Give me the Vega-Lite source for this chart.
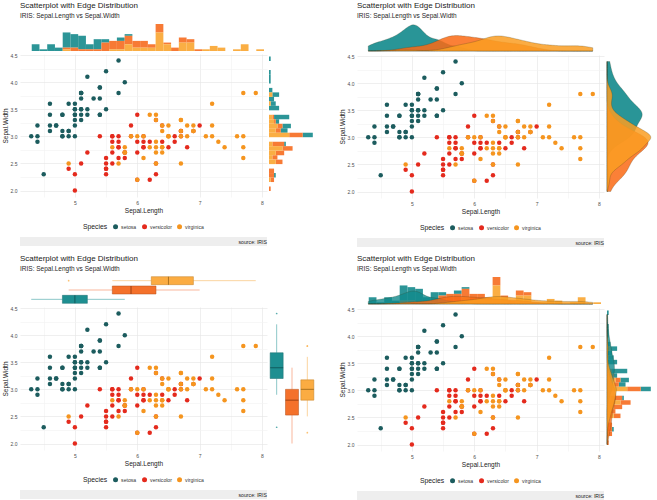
{
 "$schema": "https://vega.github.io/schema/vega-lite/v6.json",
 "padding": {"left": 2, "top": 2, "right": 0, "bottom": 0},
 "background": "white",
 "config": {
  "font": "Liberation Sans",
  "view": {"stroke": null},
  "axis": {"domain": false, "ticks": false, "tickSize": 0, "labelFont": "Liberation Sans", "labelFontSize": 5, "labelColor": "#4d4d4d", "labelPadding": 3, "titleFont": "Liberation Sans", "titleFontSize": 6.5, "titleFontWeight": "normal", "titleColor": "#222222", "titlePadding": 2, "gridWidth": 0.6},
  "legend": {"orient": "bottom", "direction": "horizontal", "titleOrient": "left", "titleFontSize": 6.8, "titleFontWeight": "normal", "titleColor": "#222222", "labelFontSize": 5.1, "labelColor": "#333333", "symbolType": "circle", "symbolSize": 25, "symbolStrokeWidth": 0, "columnPadding": 5, "labelOffset": 3, "offset": 10, "titlePadding": 5, "layout": {"bottom": {"anchor": "middle"}}},
  "title": {"font": "Liberation Sans", "fontSize": 8, "fontWeight": "normal", "color": "#1a1a1a", "anchor": "start", "frame": "group", "subtitleFont": "Liberation Sans", "subtitleFontSize": 6.5, "subtitleColor": "#262626", "subtitlePadding": 3, "offset": 3.5}
 },
 "datasets": {"iris": [
  {"SepalLength":5.1,"SepalWidth":3.5,"Species":"setosa"},{"SepalLength":4.9,"SepalWidth":3.0,"Species":"setosa"},{"SepalLength":4.7,"SepalWidth":3.2,"Species":"setosa"},{"SepalLength":4.6,"SepalWidth":3.1,"Species":"setosa"},{"SepalLength":5.0,"SepalWidth":3.6,"Species":"setosa"},
  {"SepalLength":5.4,"SepalWidth":3.9,"Species":"setosa"},{"SepalLength":4.6,"SepalWidth":3.4,"Species":"setosa"},{"SepalLength":5.0,"SepalWidth":3.4,"Species":"setosa"},{"SepalLength":4.4,"SepalWidth":2.9,"Species":"setosa"},{"SepalLength":4.9,"SepalWidth":3.1,"Species":"setosa"},
  {"SepalLength":5.4,"SepalWidth":3.7,"Species":"setosa"},{"SepalLength":4.8,"SepalWidth":3.4,"Species":"setosa"},{"SepalLength":4.8,"SepalWidth":3.0,"Species":"setosa"},{"SepalLength":4.3,"SepalWidth":3.0,"Species":"setosa"},{"SepalLength":5.8,"SepalWidth":4.0,"Species":"setosa"},
  {"SepalLength":5.7,"SepalWidth":4.4,"Species":"setosa"},{"SepalLength":5.4,"SepalWidth":3.9,"Species":"setosa"},{"SepalLength":5.1,"SepalWidth":3.5,"Species":"setosa"},{"SepalLength":5.7,"SepalWidth":3.8,"Species":"setosa"},{"SepalLength":5.1,"SepalWidth":3.8,"Species":"setosa"},
  {"SepalLength":5.4,"SepalWidth":3.4,"Species":"setosa"},{"SepalLength":5.1,"SepalWidth":3.7,"Species":"setosa"},{"SepalLength":4.6,"SepalWidth":3.6,"Species":"setosa"},{"SepalLength":5.1,"SepalWidth":3.3,"Species":"setosa"},{"SepalLength":4.8,"SepalWidth":3.4,"Species":"setosa"},
  {"SepalLength":5.0,"SepalWidth":3.0,"Species":"setosa"},{"SepalLength":5.0,"SepalWidth":3.4,"Species":"setosa"},{"SepalLength":5.2,"SepalWidth":3.5,"Species":"setosa"},{"SepalLength":5.2,"SepalWidth":3.4,"Species":"setosa"},{"SepalLength":4.7,"SepalWidth":3.2,"Species":"setosa"},
  {"SepalLength":4.8,"SepalWidth":3.1,"Species":"setosa"},{"SepalLength":5.4,"SepalWidth":3.4,"Species":"setosa"},{"SepalLength":5.2,"SepalWidth":4.1,"Species":"setosa"},{"SepalLength":5.5,"SepalWidth":4.2,"Species":"setosa"},{"SepalLength":4.9,"SepalWidth":3.1,"Species":"setosa"},
  {"SepalLength":5.0,"SepalWidth":3.2,"Species":"setosa"},{"SepalLength":5.5,"SepalWidth":3.5,"Species":"setosa"},{"SepalLength":4.9,"SepalWidth":3.6,"Species":"setosa"},{"SepalLength":4.4,"SepalWidth":3.0,"Species":"setosa"},{"SepalLength":5.1,"SepalWidth":3.4,"Species":"setosa"},
  {"SepalLength":5.0,"SepalWidth":3.5,"Species":"setosa"},{"SepalLength":4.5,"SepalWidth":2.3,"Species":"setosa"},{"SepalLength":4.4,"SepalWidth":3.2,"Species":"setosa"},{"SepalLength":5.0,"SepalWidth":3.5,"Species":"setosa"},{"SepalLength":5.1,"SepalWidth":3.8,"Species":"setosa"},
  {"SepalLength":4.8,"SepalWidth":3.0,"Species":"setosa"},{"SepalLength":5.1,"SepalWidth":3.8,"Species":"setosa"},{"SepalLength":4.6,"SepalWidth":3.2,"Species":"setosa"},{"SepalLength":5.3,"SepalWidth":3.7,"Species":"setosa"},{"SepalLength":5.0,"SepalWidth":3.3,"Species":"setosa"},
  {"SepalLength":7.0,"SepalWidth":3.2,"Species":"versicolor"},{"SepalLength":6.4,"SepalWidth":3.2,"Species":"versicolor"},{"SepalLength":6.9,"SepalWidth":3.1,"Species":"versicolor"},{"SepalLength":5.5,"SepalWidth":2.3,"Species":"versicolor"},{"SepalLength":6.5,"SepalWidth":2.8,"Species":"versicolor"},
  {"SepalLength":5.7,"SepalWidth":2.8,"Species":"versicolor"},{"SepalLength":6.3,"SepalWidth":3.3,"Species":"versicolor"},{"SepalLength":4.9,"SepalWidth":2.4,"Species":"versicolor"},{"SepalLength":6.6,"SepalWidth":2.9,"Species":"versicolor"},{"SepalLength":5.2,"SepalWidth":2.7,"Species":"versicolor"},
  {"SepalLength":5.0,"SepalWidth":2.0,"Species":"versicolor"},{"SepalLength":5.9,"SepalWidth":3.0,"Species":"versicolor"},{"SepalLength":6.0,"SepalWidth":2.2,"Species":"versicolor"},{"SepalLength":6.1,"SepalWidth":2.9,"Species":"versicolor"},{"SepalLength":5.6,"SepalWidth":2.9,"Species":"versicolor"},
  {"SepalLength":6.7,"SepalWidth":3.1,"Species":"versicolor"},{"SepalLength":5.6,"SepalWidth":3.0,"Species":"versicolor"},{"SepalLength":5.8,"SepalWidth":2.7,"Species":"versicolor"},{"SepalLength":6.2,"SepalWidth":2.2,"Species":"versicolor"},{"SepalLength":5.6,"SepalWidth":2.5,"Species":"versicolor"},
  {"SepalLength":5.9,"SepalWidth":3.2,"Species":"versicolor"},{"SepalLength":6.1,"SepalWidth":2.8,"Species":"versicolor"},{"SepalLength":6.3,"SepalWidth":2.5,"Species":"versicolor"},{"SepalLength":6.1,"SepalWidth":2.8,"Species":"versicolor"},{"SepalLength":6.4,"SepalWidth":2.9,"Species":"versicolor"},
  {"SepalLength":6.6,"SepalWidth":3.0,"Species":"versicolor"},{"SepalLength":6.8,"SepalWidth":2.8,"Species":"versicolor"},{"SepalLength":6.7,"SepalWidth":3.0,"Species":"versicolor"},{"SepalLength":6.0,"SepalWidth":2.9,"Species":"versicolor"},{"SepalLength":5.7,"SepalWidth":2.6,"Species":"versicolor"},
  {"SepalLength":5.5,"SepalWidth":2.4,"Species":"versicolor"},{"SepalLength":5.5,"SepalWidth":2.4,"Species":"versicolor"},{"SepalLength":5.8,"SepalWidth":2.7,"Species":"versicolor"},{"SepalLength":6.0,"SepalWidth":2.7,"Species":"versicolor"},{"SepalLength":5.4,"SepalWidth":3.0,"Species":"versicolor"},
  {"SepalLength":6.0,"SepalWidth":3.4,"Species":"versicolor"},{"SepalLength":6.7,"SepalWidth":3.1,"Species":"versicolor"},{"SepalLength":6.3,"SepalWidth":2.3,"Species":"versicolor"},{"SepalLength":5.6,"SepalWidth":3.0,"Species":"versicolor"},{"SepalLength":5.5,"SepalWidth":2.5,"Species":"versicolor"},
  {"SepalLength":5.5,"SepalWidth":2.6,"Species":"versicolor"},{"SepalLength":6.1,"SepalWidth":3.0,"Species":"versicolor"},{"SepalLength":5.8,"SepalWidth":2.6,"Species":"versicolor"},{"SepalLength":5.0,"SepalWidth":2.3,"Species":"versicolor"},{"SepalLength":5.6,"SepalWidth":2.7,"Species":"versicolor"},
  {"SepalLength":5.7,"SepalWidth":3.0,"Species":"versicolor"},{"SepalLength":5.7,"SepalWidth":2.9,"Species":"versicolor"},{"SepalLength":6.2,"SepalWidth":2.9,"Species":"versicolor"},{"SepalLength":5.1,"SepalWidth":2.5,"Species":"versicolor"},{"SepalLength":5.7,"SepalWidth":2.8,"Species":"versicolor"},
  {"SepalLength":6.3,"SepalWidth":3.3,"Species":"virginica"},{"SepalLength":5.8,"SepalWidth":2.7,"Species":"virginica"},{"SepalLength":7.1,"SepalWidth":3.0,"Species":"virginica"},{"SepalLength":6.3,"SepalWidth":2.9,"Species":"virginica"},{"SepalLength":6.5,"SepalWidth":3.0,"Species":"virginica"},
  {"SepalLength":7.6,"SepalWidth":3.0,"Species":"virginica"},{"SepalLength":4.9,"SepalWidth":2.5,"Species":"virginica"},{"SepalLength":7.3,"SepalWidth":2.9,"Species":"virginica"},{"SepalLength":6.7,"SepalWidth":2.5,"Species":"virginica"},{"SepalLength":7.2,"SepalWidth":3.6,"Species":"virginica"},
  {"SepalLength":6.5,"SepalWidth":3.2,"Species":"virginica"},{"SepalLength":6.4,"SepalWidth":2.7,"Species":"virginica"},{"SepalLength":6.8,"SepalWidth":3.0,"Species":"virginica"},{"SepalLength":5.7,"SepalWidth":2.5,"Species":"virginica"},{"SepalLength":5.8,"SepalWidth":2.8,"Species":"virginica"},
  {"SepalLength":6.4,"SepalWidth":3.2,"Species":"virginica"},{"SepalLength":6.5,"SepalWidth":3.0,"Species":"virginica"},{"SepalLength":7.7,"SepalWidth":3.8,"Species":"virginica"},{"SepalLength":7.7,"SepalWidth":2.6,"Species":"virginica"},{"SepalLength":6.0,"SepalWidth":2.2,"Species":"virginica"},
  {"SepalLength":6.9,"SepalWidth":3.2,"Species":"virginica"},{"SepalLength":5.6,"SepalWidth":2.8,"Species":"virginica"},{"SepalLength":7.7,"SepalWidth":2.8,"Species":"virginica"},{"SepalLength":6.3,"SepalWidth":2.7,"Species":"virginica"},{"SepalLength":6.7,"SepalWidth":3.3,"Species":"virginica"},
  {"SepalLength":7.2,"SepalWidth":3.2,"Species":"virginica"},{"SepalLength":6.2,"SepalWidth":2.8,"Species":"virginica"},{"SepalLength":6.1,"SepalWidth":3.0,"Species":"virginica"},{"SepalLength":6.4,"SepalWidth":2.8,"Species":"virginica"},{"SepalLength":7.2,"SepalWidth":3.0,"Species":"virginica"},
  {"SepalLength":7.4,"SepalWidth":2.8,"Species":"virginica"},{"SepalLength":7.9,"SepalWidth":3.8,"Species":"virginica"},{"SepalLength":6.4,"SepalWidth":2.8,"Species":"virginica"},{"SepalLength":6.3,"SepalWidth":2.8,"Species":"virginica"},{"SepalLength":6.1,"SepalWidth":2.6,"Species":"virginica"},
  {"SepalLength":7.7,"SepalWidth":3.0,"Species":"virginica"},{"SepalLength":6.3,"SepalWidth":3.4,"Species":"virginica"},{"SepalLength":6.4,"SepalWidth":3.1,"Species":"virginica"},{"SepalLength":6.0,"SepalWidth":3.0,"Species":"virginica"},{"SepalLength":6.9,"SepalWidth":3.1,"Species":"virginica"},
  {"SepalLength":6.7,"SepalWidth":3.1,"Species":"virginica"},{"SepalLength":6.9,"SepalWidth":3.1,"Species":"virginica"},{"SepalLength":5.8,"SepalWidth":2.7,"Species":"virginica"},{"SepalLength":6.8,"SepalWidth":3.2,"Species":"virginica"},{"SepalLength":6.7,"SepalWidth":3.3,"Species":"virginica"},
  {"SepalLength":6.7,"SepalWidth":3.0,"Species":"virginica"},{"SepalLength":6.3,"SepalWidth":2.5,"Species":"virginica"},{"SepalLength":6.5,"SepalWidth":3.0,"Species":"virginica"},{"SepalLength":6.2,"SepalWidth":3.4,"Species":"virginica"},{"SepalLength":5.9,"SepalWidth":3.0,"Species":"virginica"}
 ],
 "caption": [{"caption": "source: IRIS"}]},
 "spacing": 8,
 "resolve": {"scale": {"color": "independent"}, "legend": {"color": "independent"}},
 "vconcat": [
  {"spacing": 24, "resolve": {"scale": {"color": "independent"}, "legend": {"color": "independent"}}, "hconcat": [
   {"spacing": 2, "resolve": {"scale": {"color": "independent"}, "legend": {"color": "independent"}}, "vconcat": [
    {"width": 247, "height": 28, "data": {"name": "iris"},
     "title": {"text": "Scatterplot with Edge Distribution", "subtitle": "IRIS: Sepal.Length vs Sepal.Width"},
     "mark": {"type": "bar", "binSpacing": 0, "opacity": 0.9},
     "encoding": {
      "x": {"field": "SepalLength", "type": "quantitative", "bin": {"extent": [4.3, 7.9], "step": 0.1241379, "nice": false}, "scale": {"domain": [4.12, 8.08], "nice": false, "zero": false}, "axis": null},
      "y": {"aggregate": "count", "type": "quantitative", "scale": {"domain": [0, 16.6]}, "axis": null},
      "color": {"field": "Species", "type": "nominal", "scale": {"domain": ["setosa","versicolor","virginica"], "range": ["#158A8C","#F66B1F","#FAA530"]}, "legend": null},
      "order": {"field": "Species", "sort": "descending"}
     }},
    {"spacing": 6, "resolve": {"scale": {"color": "independent"}, "legend": {"color": "independent"}}, "vconcat": [
     {"spacing": 2, "resolve": {"scale": {"color": "independent"}, "legend": {"color": "independent"}}, "hconcat": [
      {"width": 247, "height": 143, "data": {"name": "iris"},
       "mark": {"type": "circle", "size": 20, "opacity": 1},
       "encoding": {
        "x": {"field": "SepalLength", "type": "quantitative", "title": "Sepal.Length", "scale": {"domain": [4.12, 8.08], "nice": false, "zero": false},
              "axis": {"values": [4.5,5,5.5,6,6.5,7,7.5,8], "format": ".0f", "labelExpr": "datum.value % 1 === 0 ? datum.label : ''", "gridColor": {"condition": {"test": "datum.value % 1 === 0", "value": "#e4e4e4"}, "value": "#f1f1f1"}}},
        "y": {"field": "SepalWidth", "type": "quantitative", "title": "Sepal.Width", "scale": {"domain": [1.88, 4.52], "nice": false, "zero": false},
              "axis": {"values": [2,2.25,2.5,2.75,3,3.25,3.5,3.75,4,4.25,4.5], "format": ".1f", "labelExpr": "datum.value % 0.5 === 0 ? datum.label : ''", "gridColor": {"condition": {"test": "datum.value % 0.5 === 0", "value": "#e4e4e4"}, "value": "#f1f1f1"}}},
        "color": {"field": "Species", "type": "nominal", "scale": {"domain": ["setosa","versicolor","virginica"], "range": ["#1C5C5E","#E42A1D","#F5951F"]}, "legend": {"title": "Species"}}
       }},
      {"width": 46, "height": 143, "data": {"name": "iris"},
       "mark": {"type": "bar", "binSpacing": 0, "opacity": 0.9, "orient": "horizontal"},
       "encoding": {
        "y": {"field": "SepalWidth", "type": "quantitative", "bin": {"extent": [2.0, 4.4], "step": 0.0827586, "nice": false}, "scale": {"domain": [1.88, 4.52], "nice": false, "zero": false}, "axis": null},
        "x": {"aggregate": "count", "type": "quantitative", "scale": {"domain": [0, 27.3]}, "axis": null},
        "color": {"field": "Species", "type": "nominal", "scale": {"domain": ["setosa","versicolor","virginica"], "range": ["#158A8C","#F66B1F","#FAA530"]}, "legend": null},
        "order": {"field": "Species", "sort": "descending"}
       }}
     ]},
     {"width": 247, "height": 9, "data": {"name": "caption"}, "view": {"fill": "#eeeeee", "stroke": null},
      "mark": {"type": "text", "align": "right", "baseline": "middle", "fontSize": 5.2, "color": "#222222"},
      "encoding": {"text": {"field": "caption"}, "x": {"value": "width"}}}
    ]}
   ]},
   {"spacing": 2, "resolve": {"scale": {"color": "independent"}, "legend": {"color": "independent"}}, "vconcat": [
    {"width": 247, "height": 28, "data": {"name": "iris"},
     "title": {"text": "Scatterplot with Edge Distribution", "subtitle": "IRIS: Sepal.Length vs Sepal.Width"},
     "layer": [
      {"transform": [{"filter": "datum.Species === 'setosa'"}, {"density": "SepalLength", "bandwidth": 0.1229, "extent": [4.3, 7.9], "steps": 150}],
       "mark": {"type": "area", "fill": "#128A8C", "fillOpacity": 0.9, "stroke": "#3a3a1e", "strokeWidth": 0.4, "strokeOpacity": 0.6},
       "encoding": {"x": {"field": "value", "type": "quantitative", "scale": {"domain": [4.12, 8.08], "nice": false, "zero": false}, "axis": null}, "y": {"field": "density", "type": "quantitative", "scale": {"domain": [0, 1.325]}, "axis": null}}},
      {"transform": [{"filter": "datum.Species === 'versicolor'"}, {"density": "SepalLength", "bandwidth": 0.2125, "extent": [4.3, 7.9], "steps": 150}],
       "mark": {"type": "area", "fill": "#FA6A14", "fillOpacity": 0.85, "stroke": "#3a3a1e", "strokeWidth": 0.4, "strokeOpacity": 0.6},
       "encoding": {"x": {"field": "value", "type": "quantitative", "scale": {"domain": [4.12, 8.08], "nice": false, "zero": false}, "axis": null}, "y": {"field": "density", "type": "quantitative", "scale": {"domain": [0, 1.325]}, "axis": null}}},
      {"transform": [{"filter": "datum.Species === 'virginica'"}, {"density": "SepalLength", "bandwidth": 0.2073, "extent": [4.3, 7.9], "steps": 150}],
       "mark": {"type": "area", "fill": "#FA9E22", "fillOpacity": 0.85, "stroke": "#3a3a1e", "strokeWidth": 0.4, "strokeOpacity": 0.6},
       "encoding": {"x": {"field": "value", "type": "quantitative", "scale": {"domain": [4.12, 8.08], "nice": false, "zero": false}, "axis": null}, "y": {"field": "density", "type": "quantitative", "scale": {"domain": [0, 1.325]}, "axis": null}}}
     ]},
    {"spacing": 6, "resolve": {"scale": {"color": "independent"}, "legend": {"color": "independent"}}, "vconcat": [
     {"spacing": 2, "resolve": {"scale": {"color": "independent"}, "legend": {"color": "independent"}}, "hconcat": [
      {"width": 247, "height": 143, "data": {"name": "iris"},
       "mark": {"type": "circle", "size": 20, "opacity": 1},
       "encoding": {
        "x": {"field": "SepalLength", "type": "quantitative", "title": "Sepal.Length", "scale": {"domain": [4.12, 8.08], "nice": false, "zero": false},
              "axis": {"values": [4.5,5,5.5,6,6.5,7,7.5,8], "format": ".0f", "labelExpr": "datum.value % 1 === 0 ? datum.label : ''", "gridColor": {"condition": {"test": "datum.value % 1 === 0", "value": "#e4e4e4"}, "value": "#f1f1f1"}}},
        "y": {"field": "SepalWidth", "type": "quantitative", "title": "Sepal.Width", "scale": {"domain": [1.88, 4.52], "nice": false, "zero": false},
              "axis": {"values": [2,2.25,2.5,2.75,3,3.25,3.5,3.75,4,4.25,4.5], "format": ".1f", "labelExpr": "datum.value % 0.5 === 0 ? datum.label : ''", "gridColor": {"condition": {"test": "datum.value % 0.5 === 0", "value": "#e4e4e4"}, "value": "#f1f1f1"}}},
        "color": {"field": "Species", "type": "nominal", "scale": {"domain": ["setosa","versicolor","virginica"], "range": ["#1C5C5E","#E42A1D","#F5951F"]}, "legend": {"title": "Species"}}
       }},
      {"width": 46, "height": 143, "data": {"name": "iris"},
       "layer": [
        {"transform": [{"filter": "datum.Species === 'setosa'"}, {"density": "SepalWidth", "bandwidth": 0.1459, "extent": [2.0, 4.4], "steps": 150}],
         "mark": {"type": "area", "orient": "horizontal", "fill": "#128A8C", "fillOpacity": 0.9, "stroke": "#3a3a1e", "strokeWidth": 0.4, "strokeOpacity": 0.6},
         "encoding": {"y": {"field": "value", "type": "quantitative", "scale": {"domain": [1.88, 4.52], "nice": false, "zero": false}, "axis": null}, "x": {"field": "density", "type": "quantitative", "scale": {"domain": [0, 1.40]}, "axis": null}}},
        {"transform": [{"filter": "datum.Species === 'versicolor'"}, {"density": "SepalWidth", "bandwidth": 0.1292, "extent": [2.0, 4.4], "steps": 150}],
         "mark": {"type": "area", "orient": "horizontal", "fill": "#FA6A14", "fillOpacity": 0.85, "stroke": "#3a3a1e", "strokeWidth": 0.4, "strokeOpacity": 0.6},
         "encoding": {"y": {"field": "value", "type": "quantitative", "scale": {"domain": [1.88, 4.52], "nice": false, "zero": false}, "axis": null}, "x": {"field": "density", "type": "quantitative", "scale": {"domain": [0, 1.40]}, "axis": null}}},
        {"transform": [{"filter": "datum.Species === 'virginica'"}, {"density": "SepalWidth", "bandwidth": 0.1152, "extent": [2.0, 4.4], "steps": 150}],
         "mark": {"type": "area", "orient": "horizontal", "fill": "#FA9E22", "fillOpacity": 0.85, "stroke": "#3a3a1e", "strokeWidth": 0.4, "strokeOpacity": 0.6},
         "encoding": {"y": {"field": "value", "type": "quantitative", "scale": {"domain": [1.88, 4.52], "nice": false, "zero": false}, "axis": null}, "x": {"field": "density", "type": "quantitative", "scale": {"domain": [0, 1.40]}, "axis": null}}}
       ]}
     ]},
     {"width": 247, "height": 9, "data": {"name": "caption"}, "view": {"fill": "#eeeeee", "stroke": null},
      "mark": {"type": "text", "align": "right", "baseline": "middle", "fontSize": 5.2, "color": "#222222"},
      "encoding": {"text": {"field": "caption"}, "x": {"value": "width"}}}
    ]}
   ]}
  ]},
  {"spacing": 24, "resolve": {"scale": {"color": "independent"}, "legend": {"color": "independent"}}, "hconcat": [
   {"spacing": 2, "resolve": {"scale": {"color": "independent"}, "legend": {"color": "independent"}}, "vconcat": [
    {"width": 247, "height": 28, "data": {"name": "iris"},
     "title": {"text": "Scatterplot with Edge Distribution", "subtitle": "IRIS: Sepal.Length vs Sepal.Width"},
     "layer": [
      {"transform": [{"filter": "datum.Species === 'setosa'"}],
       "mark": {"type": "boxplot", "size": 8, "extent": 1.5, "ticks": false, "box": {"color": "#138A8C", "opacity": 0.95, "stroke": "#0D6466", "strokeWidth": 0.5}, "median": {"color": "#0A4547"}, "rule": {"color": "#3FA2A4", "strokeWidth": 0.6}, "outliers": {"color": "#138A8C", "size": 3, "filled": true}},
       "encoding": {"x": {"field": "SepalLength", "type": "quantitative", "scale": {"domain": [4.12, 8.08], "nice": false, "zero": false}, "axis": null}, "y": {"field": "Species", "type": "nominal", "scale": {"domain": ["virginica","versicolor","setosa"]}, "axis": null}}},
      {"transform": [{"filter": "datum.Species === 'versicolor'"}],
       "mark": {"type": "boxplot", "size": 8, "extent": 1.5, "ticks": false, "box": {"color": "#F46A20", "opacity": 0.95, "stroke": "#B0470F", "strokeWidth": 0.5}, "median": {"color": "#7A2E08"}, "rule": {"color": "#F5865A", "strokeWidth": 0.6}, "outliers": {"color": "#F46A20", "size": 3, "filled": true}},
       "encoding": {"x": {"field": "SepalLength", "type": "quantitative", "scale": {"domain": [4.12, 8.08], "nice": false, "zero": false}, "axis": null}, "y": {"field": "Species", "type": "nominal", "scale": {"domain": ["virginica","versicolor","setosa"]}, "axis": null}}},
      {"transform": [{"filter": "datum.Species === 'virginica'"}],
       "mark": {"type": "boxplot", "size": 8, "extent": 1.5, "ticks": false, "box": {"color": "#FBA838", "opacity": 0.95, "stroke": "#C07A1A", "strokeWidth": 0.5}, "median": {"color": "#8A5A10"}, "rule": {"color": "#F9B960", "strokeWidth": 0.6}, "outliers": {"color": "#FBA838", "size": 3, "filled": true}},
       "encoding": {"x": {"field": "SepalLength", "type": "quantitative", "scale": {"domain": [4.12, 8.08], "nice": false, "zero": false}, "axis": null}, "y": {"field": "Species", "type": "nominal", "scale": {"domain": ["virginica","versicolor","setosa"]}, "axis": null}}}
     ]},
    {"spacing": 6, "resolve": {"scale": {"color": "independent"}, "legend": {"color": "independent"}}, "vconcat": [
     {"spacing": 2, "resolve": {"scale": {"color": "independent"}, "legend": {"color": "independent"}}, "hconcat": [
      {"width": 247, "height": 143, "data": {"name": "iris"},
       "mark": {"type": "circle", "size": 20, "opacity": 1},
       "encoding": {
        "x": {"field": "SepalLength", "type": "quantitative", "title": "Sepal.Length", "scale": {"domain": [4.12, 8.08], "nice": false, "zero": false},
              "axis": {"values": [4.5,5,5.5,6,6.5,7,7.5,8], "format": ".0f", "labelExpr": "datum.value % 1 === 0 ? datum.label : ''", "gridColor": {"condition": {"test": "datum.value % 1 === 0", "value": "#e4e4e4"}, "value": "#f1f1f1"}}},
        "y": {"field": "SepalWidth", "type": "quantitative", "title": "Sepal.Width", "scale": {"domain": [1.88, 4.52], "nice": false, "zero": false},
              "axis": {"values": [2,2.25,2.5,2.75,3,3.25,3.5,3.75,4,4.25,4.5], "format": ".1f", "labelExpr": "datum.value % 0.5 === 0 ? datum.label : ''", "gridColor": {"condition": {"test": "datum.value % 0.5 === 0", "value": "#e4e4e4"}, "value": "#f1f1f1"}}},
        "color": {"field": "Species", "type": "nominal", "scale": {"domain": ["setosa","versicolor","virginica"], "range": ["#1C5C5E","#E42A1D","#F5951F"]}, "legend": {"title": "Species"}}
       }},
      {"width": 46, "height": 143, "data": {"name": "iris"},
       "layer": [
        {"transform": [{"filter": "datum.Species === 'setosa'"}],
         "mark": {"type": "boxplot", "size": 13, "extent": 1.5, "ticks": false, "box": {"color": "#138A8C", "opacity": 0.95, "stroke": "#0D6466", "strokeWidth": 0.5}, "median": {"color": "#0A4547"}, "rule": {"color": "#3FA2A4", "strokeWidth": 0.6}, "outliers": {"color": "#138A8C", "size": 3, "filled": true}},
         "encoding": {"y": {"field": "SepalWidth", "type": "quantitative", "scale": {"domain": [1.88, 4.52], "nice": false, "zero": false}, "axis": null}, "x": {"field": "Species", "type": "nominal", "scale": {"domain": ["setosa","versicolor","virginica"]}, "axis": null}}},
        {"transform": [{"filter": "datum.Species === 'versicolor'"}],
         "mark": {"type": "boxplot", "size": 13, "extent": 1.5, "ticks": false, "box": {"color": "#F46A20", "opacity": 0.95, "stroke": "#B0470F", "strokeWidth": 0.5}, "median": {"color": "#7A2E08"}, "rule": {"color": "#F5865A", "strokeWidth": 0.6}, "outliers": {"color": "#F46A20", "size": 3, "filled": true}},
         "encoding": {"y": {"field": "SepalWidth", "type": "quantitative", "scale": {"domain": [1.88, 4.52], "nice": false, "zero": false}, "axis": null}, "x": {"field": "Species", "type": "nominal", "scale": {"domain": ["setosa","versicolor","virginica"]}, "axis": null}}},
        {"transform": [{"filter": "datum.Species === 'virginica'"}],
         "mark": {"type": "boxplot", "size": 13, "extent": 1.5, "ticks": false, "box": {"color": "#FBA838", "opacity": 0.95, "stroke": "#C07A1A", "strokeWidth": 0.5}, "median": {"color": "#8A5A10"}, "rule": {"color": "#F9B960", "strokeWidth": 0.6}, "outliers": {"color": "#FBA838", "size": 3, "filled": true}},
         "encoding": {"y": {"field": "SepalWidth", "type": "quantitative", "scale": {"domain": [1.88, 4.52], "nice": false, "zero": false}, "axis": null}, "x": {"field": "Species", "type": "nominal", "scale": {"domain": ["setosa","versicolor","virginica"]}, "axis": null}}}
       ]}
     ]},
     {"width": 247, "height": 9, "data": {"name": "caption"}, "view": {"fill": "#eeeeee", "stroke": null},
      "mark": {"type": "text", "align": "right", "baseline": "middle", "fontSize": 5.2, "color": "#222222"},
      "encoding": {"text": {"field": "caption"}, "x": {"value": "width"}}}
    ]}
   ]},
   {"spacing": 2, "resolve": {"scale": {"color": "independent"}, "legend": {"color": "independent"}}, "vconcat": [
    {"width": 247, "height": 28, "data": {"name": "iris"},
     "title": {"text": "Scatterplot with Edge Distribution", "subtitle": "IRIS: Sepal.Length vs Sepal.Width"},
     "resolve": {"scale": {"y": "independent"}},
     "layer": [
      {"mark": {"type": "bar", "binSpacing": 0, "opacity": 0.9},
       "encoding": {
        "x": {"field": "SepalLength", "type": "quantitative", "bin": {"extent": [4.3, 7.9], "step": 0.1241379, "nice": false}, "scale": {"domain": [4.12, 8.08], "nice": false, "zero": false}, "axis": null},
        "y": {"aggregate": "count", "type": "quantitative", "scale": {"domain": [0, 16.6]}, "axis": null},
        "color": {"field": "Species", "type": "nominal", "scale": {"domain": ["setosa","versicolor","virginica"], "range": ["#158A8C","#F66B1F","#FAA530"]}, "legend": null},
        "order": {"field": "Species", "sort": "descending"}
       }},
      {"transform": [{"filter": "datum.Species === 'setosa'"}, {"density": "SepalLength", "bandwidth": 0.1229, "extent": [4.3, 7.9], "steps": 150}],
       "mark": {"type": "area", "fill": "#128A8C", "fillOpacity": 0.8, "stroke": "#3a3a1e", "strokeWidth": 0.4, "strokeOpacity": 0.6},
       "encoding": {"x": {"field": "value", "type": "quantitative", "scale": {"domain": [4.12, 8.08], "nice": false, "zero": false}, "axis": null}, "y": {"field": "density", "type": "quantitative", "scale": {"domain": [0, 2.674]}, "axis": null}}},
      {"transform": [{"filter": "datum.Species === 'versicolor'"}, {"density": "SepalLength", "bandwidth": 0.2125, "extent": [4.3, 7.9], "steps": 150}],
       "mark": {"type": "area", "fill": "#FA6A14", "fillOpacity": 0.8, "stroke": "#3a3a1e", "strokeWidth": 0.4, "strokeOpacity": 0.6},
       "encoding": {"x": {"field": "value", "type": "quantitative", "scale": {"domain": [4.12, 8.08], "nice": false, "zero": false}, "axis": null}, "y": {"field": "density", "type": "quantitative", "scale": {"domain": [0, 2.674]}, "axis": null}}},
      {"transform": [{"filter": "datum.Species === 'virginica'"}, {"density": "SepalLength", "bandwidth": 0.2073, "extent": [4.3, 7.9], "steps": 150}],
       "mark": {"type": "area", "fill": "#FA9E22", "fillOpacity": 0.8, "stroke": "#3a3a1e", "strokeWidth": 0.4, "strokeOpacity": 0.6},
       "encoding": {"x": {"field": "value", "type": "quantitative", "scale": {"domain": [4.12, 8.08], "nice": false, "zero": false}, "axis": null}, "y": {"field": "density", "type": "quantitative", "scale": {"domain": [0, 2.674]}, "axis": null}}}
     ]},
    {"spacing": 6, "resolve": {"scale": {"color": "independent"}, "legend": {"color": "independent"}}, "vconcat": [
     {"spacing": 2, "resolve": {"scale": {"color": "independent"}, "legend": {"color": "independent"}}, "hconcat": [
      {"width": 247, "height": 143, "data": {"name": "iris"},
       "mark": {"type": "circle", "size": 20, "opacity": 1},
       "encoding": {
        "x": {"field": "SepalLength", "type": "quantitative", "title": "Sepal.Length", "scale": {"domain": [4.12, 8.08], "nice": false, "zero": false},
              "axis": {"values": [4.5,5,5.5,6,6.5,7,7.5,8], "format": ".0f", "labelExpr": "datum.value % 1 === 0 ? datum.label : ''", "gridColor": {"condition": {"test": "datum.value % 1 === 0", "value": "#e4e4e4"}, "value": "#f1f1f1"}}},
        "y": {"field": "SepalWidth", "type": "quantitative", "title": "Sepal.Width", "scale": {"domain": [1.88, 4.52], "nice": false, "zero": false},
              "axis": {"values": [2,2.25,2.5,2.75,3,3.25,3.5,3.75,4,4.25,4.5], "format": ".1f", "labelExpr": "datum.value % 0.5 === 0 ? datum.label : ''", "gridColor": {"condition": {"test": "datum.value % 0.5 === 0", "value": "#e4e4e4"}, "value": "#f1f1f1"}}},
        "color": {"field": "Species", "type": "nominal", "scale": {"domain": ["setosa","versicolor","virginica"], "range": ["#1C5C5E","#E42A1D","#F5951F"]}, "legend": {"title": "Species"}}
       }},
      {"width": 46, "height": 143, "data": {"name": "iris"},
       "resolve": {"scale": {"x": "independent"}},
       "layer": [
        {"mark": {"type": "bar", "binSpacing": 0, "opacity": 0.9, "orient": "horizontal"},
         "encoding": {
          "y": {"field": "SepalWidth", "type": "quantitative", "bin": {"extent": [2.0, 4.4], "step": 0.0827586, "nice": false}, "scale": {"domain": [1.88, 4.52], "nice": false, "zero": false}, "axis": null},
          "x": {"aggregate": "count", "type": "quantitative", "scale": {"domain": [0, 27.3]}, "axis": null},
          "color": {"field": "Species", "type": "nominal", "scale": {"domain": ["setosa","versicolor","virginica"], "range": ["#158A8C","#F66B1F","#FAA530"]}, "legend": null},
          "order": {"field": "Species", "sort": "descending"}
         }},
        {"transform": [{"filter": "datum.Species === 'setosa'"}, {"density": "SepalWidth", "bandwidth": 0.1459, "extent": [2.0, 4.4], "steps": 150}],
         "mark": {"type": "area", "orient": "horizontal", "fill": "#128A8C", "fillOpacity": 0.8, "stroke": "#3a3a1e", "strokeWidth": 0.4, "strokeOpacity": 0.6},
         "encoding": {"y": {"field": "value", "type": "quantitative", "scale": {"domain": [1.88, 4.52], "nice": false, "zero": false}, "axis": null}, "x": {"field": "density", "type": "quantitative", "scale": {"domain": [0, 6.597]}, "axis": null}}},
        {"transform": [{"filter": "datum.Species === 'versicolor'"}, {"density": "SepalWidth", "bandwidth": 0.1292, "extent": [2.0, 4.4], "steps": 150}],
         "mark": {"type": "area", "orient": "horizontal", "fill": "#FA6A14", "fillOpacity": 0.8, "stroke": "#3a3a1e", "strokeWidth": 0.4, "strokeOpacity": 0.6},
         "encoding": {"y": {"field": "value", "type": "quantitative", "scale": {"domain": [1.88, 4.52], "nice": false, "zero": false}, "axis": null}, "x": {"field": "density", "type": "quantitative", "scale": {"domain": [0, 6.597]}, "axis": null}}},
        {"transform": [{"filter": "datum.Species === 'virginica'"}, {"density": "SepalWidth", "bandwidth": 0.1152, "extent": [2.0, 4.4], "steps": 150}],
         "mark": {"type": "area", "orient": "horizontal", "fill": "#FA9E22", "fillOpacity": 0.8, "stroke": "#3a3a1e", "strokeWidth": 0.4, "strokeOpacity": 0.6},
         "encoding": {"y": {"field": "value", "type": "quantitative", "scale": {"domain": [1.88, 4.52], "nice": false, "zero": false}, "axis": null}, "x": {"field": "density", "type": "quantitative", "scale": {"domain": [0, 6.597]}, "axis": null}}}
       ]}
     ]},
     {"width": 247, "height": 9, "data": {"name": "caption"}, "view": {"fill": "#eeeeee", "stroke": null},
      "mark": {"type": "text", "align": "right", "baseline": "middle", "fontSize": 5.2, "color": "#222222"},
      "encoding": {"text": {"field": "caption"}, "x": {"value": "width"}}}
    ]}
   ]}
  ]}
 ]
}
